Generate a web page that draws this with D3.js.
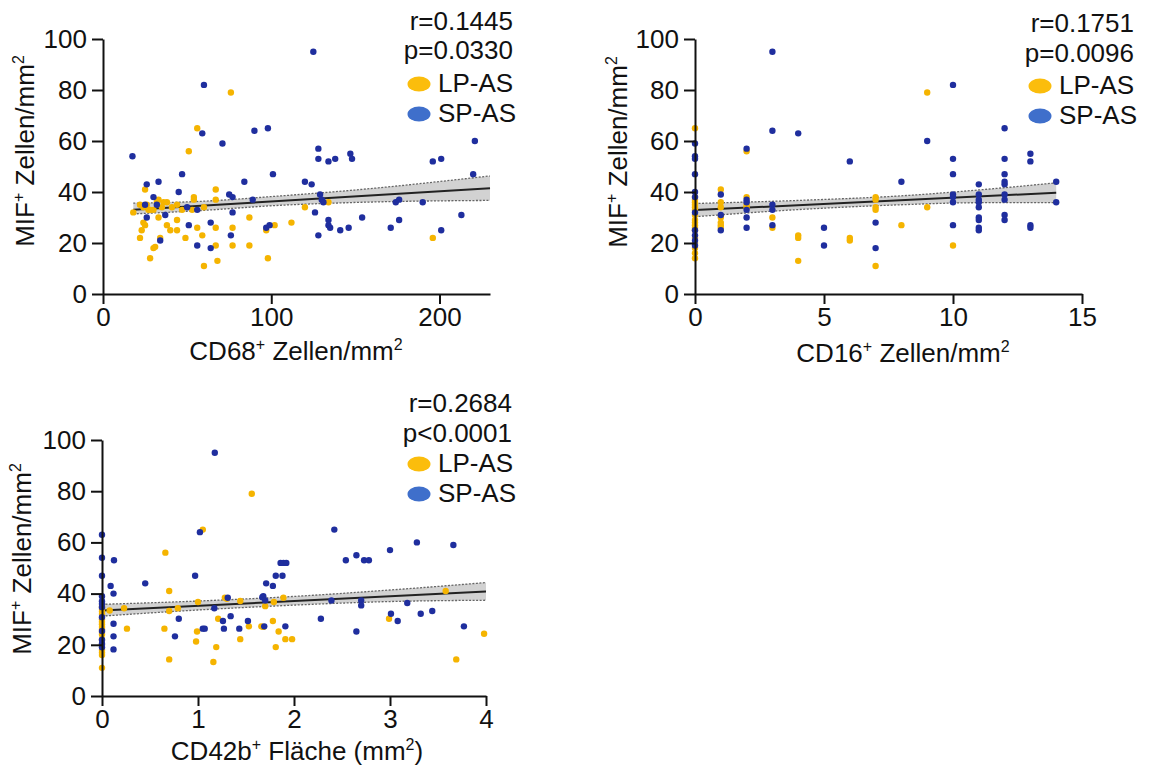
<!DOCTYPE html>
<html>
<head>
<meta charset="utf-8">
<script src="https://cdn.jsdelivr.net/npm/d3@7"></script>
<style>
  body { margin: 0; background: #fff; }
  svg { display: block; }
  text { font-family: "Liberation Sans", Arial, sans-serif; fill: #111; }
</style>
</head>
<body>
<svg id="chart" width="1155" height="771"></svg>
<script>
// ---- values ----
const groups = ["LP-AS", "SP-AS"];
const yTicks = [0, 20, 40, 60, 80, 100];

// CD68+ panel
const cd68Ticks = [0, 100, 200];
const cd68Stats = ["r=0.1445", "p=0.0330"];
const cd68LP = [[18,32],[22,35],[25,41],[24,34],[26,35],[28,33],[30,33],[32,36],[36,36],[38,36],[41,34],[44,35],
  [53,33],[54,38],[54,37],[60,34],[67,41],[67,37],[22,22],[23,25],[24,28],[25,27],[28,14],[30,18],[31,18.5],
  [33,30],[34,22],[38,27],[40,25],[44,29],[44,25],[49,22],[51,56],[56,65],[56,26],[59,23],[60,11],[67,26],
  [67,19],[68,13],[76,79],[77,19],[77,26],[87,30],[87,19],[98,14],[97,25],[102,27],[112,28],[120,34],[134,36],
  [196,22],[27,33],[35,34],[47,33],[33,37]];
const cd68SP = [[17.5,54],[60,82],[59,63],[71,59],[90,64],[98,65],[47,47],[101,47],[84,44],[33,44],[26,43],[45,40],
  [30,38],[75,39],[77,38],[89,37],[120,44],[124,43],[125,95],[128,57],[128,53],[134,52],[138,53],[147,55],[148,53],
  [129,39],[130,37],[131,36],[174,36],[176,37],[190,36],[196,52],[201,53],[201,25],[213,31],[221,60],[220,47],
  [32,35],[37,31],[26,30],[34,21],[51,27],[56,19],[64,18],[64,28],[76,23],[77,32],[97,26],[99,27],[126,32],
  [128,23],[134,29],[134,27],[135,26],[141,25],[146,26],[154,30],[171,26],[176,29],[50,34],[56,33],[25,35]];
const cd68Fit = [[18,33],[230,41.5]];
const cd68Band = [[18,31.4,35.6],[60,32.8,36.4],[100,34.6,38.2],[150,35.9,40.8],[230,36.7,46.3]];

// CD16+ panel
const cd16Ticks = [0, 5, 10, 15];
const cd16Stats = ["r=0.1751", "p=0.0096"];
const cd16LP = [[0,65],[0,38],[0,37],[0,36],[0,35],[0,34],[0,33],[0,31],[0,29],[0,28],[0,27],[0,26],[0,25],[0,22],
  [0,20],[0,18],[0,16],[0,14],[1,41],[1,36],[1,34],[1,30],[1,28],[1,27],[1,26],[2,56],[2,38],[2,35],[2,34],
  [3,30],[3,26],[4,23],[4,22],[4,13],[6,22],[6,21],[7,38],[7,37],[7,34],[7,33],[7,11],[8,27],[9,79],[9,34],[10,19]];
const cd16SP = [[0,59],[0,54],[0,53],[0,47],[0,40],[0,38],[0,32],[0,25],[0,23],[0,21],[0,19],[1,39],[1,31],[1,25],
  [2,57],[2,37],[2,36],[2,33],[2,30],[2,26],[3,95],[3,64],[3,35],[3,33],[3,27],[4,63],[5,26],[5,19],[6,52],
  [7,28],[7,18],[8,44],[9,60],[10,82],[10,53],[10,47],[10,39],[10,38],[10,36],[10,27],[11,43],[11,39],[11,37],
  [11,36],[11,34],[11,30],[11,29],[11,26],[11,25],[12,65],[12,53],[12,47],[12,44],[12,43],[12,39],[12,37],
  [12,31],[12,29],[13,55],[13,52],[13,27],[13,26],[14,44],[14,36]];
const cd16Fit = [[0,32.9],[14,39.7]];
const cd16Band = [[0,30.3,35.5],[4,33.1,36.7],[8,35,38.5],[11,35.8,40.8],[14,35.8,43.6]];

// CD42b+ panel
const cd42Ticks = [0, 1, 2, 3, 4];
const cd42Stats = ["r=0.2684", "p<0.0001"];
const cd42LP = [[1.56,79],[1.05,65],[0.66,56],[0.70,41],[3.58,41],[0.08,33.4],[0.23,34.3],[0.70,33.2],[0.79,34.3],
  [1.0,36.7],[1.28,38.4],[1.44,37.1],[1.79,36.7],[1.89,38.4],[1.70,35.1],[1.21,30.2],[0.26,26.3],[0.65,26.3],
  [0.99,25.2],[0.98,21.3],[1.53,27.2],[1.66,27.2],[1.78,29.3],[1.84,25.2],[1.44,22.2],[1.91,22.2],[1.98,22.2],
  [1.19,19.1],[1.81,19.1],[0.70,14.3],[1.16,13.3],[2.99,30.2],[3.69,14.3],[3.98,24.3],[1.3,38],[1.68,27],
  [0,35],[0,34],[0,33],[0,32],[0,30],[0,29],[0,28],[0,27],[0,26],[0,25],[0,24],[0,22],[0,20],[0,18],[0,17],
  [0,16],[0,11]];
const cd42SP = [[1.175,95],[2.42,65],[1.02,64],[0,63],[3.28,60],[3.66,59],[3.0,57],[2.65,55],[2.54,53],[2.73,53],
  [2.78,53],[0,54],[0.125,53],[1.86,52],[1.89,52],[1.92,52],[0,47],[0.97,47],[1.81,47],[1.88,47],[0.45,44],
  [1.71,44],[1.78,43],[0.09,43],[0.12,40],[0,39],[1.68,39],[1.67,38.6],[1.31,38.4],[1.70,37.3],[2.39,37.3],
  [2.7,37.3],[2.7,35.4],[3.18,36.3],[0,34.7],[1.17,34.3],[3.44,33.2],[3.01,32.1],[3.32,32.1],[1.34,31.2],
  [0,30.8],[0.8,30.2],[2.28,30.2],[3.08,29.3],[1.26,29.3],[1.52,29.3],[0.12,28.2],[3.77,27.2],[1.05,26.3],
  [1.07,26.3],[1.27,26.3],[1.43,26.3],[1.69,27.2],[1.91,27.2],[2.65,25.2],[0.76,23.3],[0.12,23.3],[0,25.4],
  [0,20.4],[0.12,18.2],[0,37],[0,36],[0,22],[0,19]];
const cd42Fit = [[0,33.4],[4,40.8]];
const cd42Band = [[0,31.2,35.8],[1,33.6,37.1],[2,35.5,38.9],[3,36.9,41.4],[4,37.4,44.3]];

// ---- styles & layout ----
const colLP = "#f5b400", colSP = "#1f2e9e";
const legLP = "#fbbd0c", legSP = "#3f6fcb";
const FS = 26;

const svg = d3.select("#chart");

const panels = [
  { lp: cd68LP, sp: cd68SP, fit: cd68Fit, band: cd68Band, stats: cd68Stats,
    xDomain: [0, 230], xTicks: cd68Ticks, left: 103, right: 490, top: 39, bottom: 294,
    statX: 513, statY: [30, 59], legX: 419, legY: [84, 114],
    yTitle: { x: 34, y: 151 }, xTitle: { x: 296, y: 360, parts: [["CD68"], ["+", 1], [" Zellen/mm"], ["2", 1]] } },
  { lp: cd16LP, sp: cd16SP, fit: cd16Fit, band: cd16Band, stats: cd16Stats,
    xDomain: [0, 15], xTicks: cd16Ticks, left: 695, right: 1082, top: 39, bottom: 294,
    statX: 1134, statY: [32, 62], legX: 1040, legY: [86, 116],
    yTitle: { x: 627, y: 152 }, xTitle: { x: 903, y: 362, parts: [["CD16"], ["+", 1], [" Zellen/mm"], ["2", 1]] } },
  { lp: cd42LP, sp: cd42SP, fit: cd42Fit, band: cd42Band, stats: cd42Stats,
    xDomain: [0, 4], xTicks: cd42Ticks, left: 102, right: 486, top: 440, bottom: 696,
    statX: 512, statY: [412, 442], legX: 419, legY: [464, 494],
    yTitle: { x: 31, y: 559 }, xTitle: { x: 297, y: 760, parts: [["CD42b"], ["+", 1], [" Fläche (mm"], ["2", 1], [")"]] } }
];

const yTitleParts = [["MIF"], ["+", 1], [" Zellen/mm"], ["2", 1]];

function addParts(text, parts) {
  let up = false;
  parts.forEach(([s, sup]) => {
    const t = text.append("tspan").text(s);
    if (sup && !up) { t.attr("dy", -10).attr("font-size", 16); up = true; }
    else if (sup) { t.attr("font-size", 16); }
    else if (up) { t.attr("dy", 10); up = false; }
  });
}

function drawPanel(p) {
  const g = svg.append("g");
  const x = d3.scaleLinear().domain(p.xDomain).range([p.left, p.right]);
  const y = d3.scaleLinear().domain([0, 100]).range([p.bottom, p.top]);

  // confidence band
  g.append("path").datum(p.band)
    .attr("d", d3.area().curve(d3.curveMonotoneX)
      .x(d => x(d[0])).y0(d => y(d[1])).y1(d => y(d[2])))
    .attr("fill", "#cdcdcd").attr("opacity", 0.9);
  [1, 2].forEach(i => {
    g.append("path").datum(p.band)
      .attr("d", d3.line().curve(d3.curveMonotoneX).x(d => x(d[0])).y(d => y(d[i])))
      .attr("fill", "none").attr("stroke", "#666").attr("stroke-width", 1.3)
      .attr("stroke-dasharray", "2,1.5");
  });

  // regression line
  g.append("path").datum(p.fit)
    .attr("d", d3.line().x(d => x(d[0])).y(d => y(d[1])))
    .attr("stroke", "#222").attr("stroke-width", 2).attr("fill", "none");

  // points
  g.append("g").selectAll("circle").data(p.lp).join("circle")
    .attr("cx", d => x(d[0])).attr("cy", d => y(d[1])).attr("r", 3.2).attr("fill", colLP);
  g.append("g").selectAll("circle").data(p.sp).join("circle")
    .attr("cx", d => x(d[0])).attr("cy", d => y(d[1])).attr("r", 3.2).attr("fill", colSP);

  // axes
  const fmt = d3.format("~g");
  const ya = g.append("g").attr("transform", `translate(${p.left},0)`)
    .call(d3.axisLeft(y).tickValues(yTicks).tickFormat(fmt).tickSize(11).tickPadding(5).tickSizeOuter(0));
  const xa = g.append("g").attr("transform", `translate(0,${p.bottom})`)
    .call(d3.axisBottom(x).tickValues(p.xTicks).tickFormat(fmt).tickSize(10).tickPadding(4).tickSizeOuter(0));
  [ya, xa].forEach(a => {
    a.selectAll("path, line").attr("stroke", "#111").attr("stroke-width", 2);
    a.selectAll("text").attr("font-size", FS).attr("fill", "#111")
      .style("font-family", '"Liberation Sans", Arial, sans-serif');
  });

  // titles
  const yt = g.append("text").attr("font-size", FS).attr("text-anchor", "middle")
    .attr("transform", `translate(${p.yTitle.x},${p.yTitle.y}) rotate(-90)`);
  addParts(yt, yTitleParts);
  const xt = g.append("text").attr("font-size", FS).attr("text-anchor", "middle")
    .attr("x", p.xTitle.x).attr("y", p.xTitle.y);
  addParts(xt, p.xTitle.parts);

  // stats
  p.stats.forEach((s, i) => {
    g.append("text").attr("x", p.statX).attr("y", p.statY[i])
      .attr("text-anchor", "end").attr("font-size", FS).text(s);
  });

  // legend
  groups.forEach((name, i) => {
    g.append("ellipse").attr("cx", p.legX).attr("cy", p.legY[i])
      .attr("rx", 11.5).attr("ry", 7.5).attr("fill", i === 0 ? legLP : legSP);
    g.append("text").attr("x", p.legX + 19).attr("y", p.legY[i] + 8)
      .attr("font-size", FS).text(name);
  });
}

panels.forEach(drawPanel);
</script>
</body>
</html>
